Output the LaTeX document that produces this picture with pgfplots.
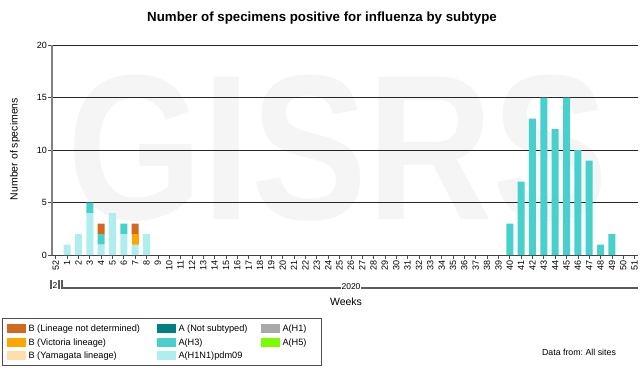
\documentclass[border=0pt]{standalone}
\usepackage{pgfplots}
\usepackage{pgfplotstable}
\pgfplotsset{compat=1.18}
\usepackage{fontspec}
\setmainfont{Liberation Sans}
\frenchspacing
\definecolor{cH1N1}{RGB}{175,238,238}
\definecolor{cH3}{RGB}{72,209,204}
\definecolor{cANS}{RGB}{0,128,128}
\definecolor{cH1}{RGB}{169,169,169}
\definecolor{cH5}{RGB}{124,252,0}
\definecolor{cYAM}{RGB}{255,222,173}
\definecolor{cVIC}{RGB}{255,165,0}
\definecolor{cBND}{RGB}{210,105,30}
\definecolor{yearline}{RGB}{90,90,90}
% x: 0 = week 52 of 2019, 1..51 = weeks of 2020
\pgfplotstableread{
x  h1n1 h3 ans h1 h5 yam vic bnd
0  0    0  0   0  0  0   0   0
1  1    0  0   0  0  0   0   0
2  2    0  0   0  0  0   0   0
3  4    1  0   0  0  0   0   0
4  1    1  0   0  0  0   0   1
5  4    0  0   0  0  0   0   0
6  2    1  0   0  0  0   0   0
7  1    0  0   0  0  0   1   1
8  2    0  0   0  0  0   0   0
40 0    3  0   0  0  0   0   0
41 0    7  0   0  0  0   0   0
42 0    13 0   0  0  0   0   0
43 0    15 0   0  0  0   0   0
44 0    12 0   0  0  0   0   0
45 0    15 0   0  0  0   0   0
46 0    10 0   0  0  0   0   0
47 0    9  0   0  0  0   0   0
48 0    1  0   0  0  0   0   0
49 0    2  0   0  0  0   0   0
}\datatable
\pgfplotsset{sw/.style={legend image code/.code={%
  \fill[##1,draw=none] (0pt,-4.5pt) rectangle (19pt,4.5pt);
  \path[draw=none,fill=none] (0pt,-6.75pt) rectangle (22pt,6.75pt);}}}
\begin{document}
\begin{tikzpicture}
\useasboundingbox (0pt,0pt) rectangle (640pt,370pt);
% watermark
\node[anchor=base, inner sep=0pt, xscale=0.84, text=black!4,
  font=\fontsize{207}{207}\selectfont\bfseries] at (338pt,150pt) {GISRS};
\begin{axis}[
  at={(52pt,115pt)}, anchor=south west,
  scale only axis, width=586pt, height=210pt,
  ybar stacked, bar width=7pt,
  xmin=-0.33, xmax=51.3, ymin=0, ymax=20,
  xtick={0,...,51},
  xticklabels={52,1,2,3,4,5,6,7,8,9,10,11,12,13,14,15,16,17,18,19,20,21,22,23,24,25,26,27,28,29,30,31,32,33,34,35,36,37,38,39,40,41,42,43,44,45,46,47,48,49,50,51},
  ytick={0,5,10,15,20},
  /pgf/number format/assume math mode=true,
  axis x line*=bottom, axis y line*=left,
  axis line style={-},
  x axis line style={black!75, line width=0.9pt},
  y axis line style={black!50, line width=1.2pt},
  tick align=outside, major tick length=4pt,
  tick style={black!70, line width=0.7pt},
  ymajorgrids, major grid style={black!85, line width=0.75pt},
  xticklabel style={rotate=90, anchor=east, font=\fontsize{9}{10}\selectfont, inner sep=1pt},
  yticklabel style={font=\fontsize{9}{10}\selectfont, inner sep=1pt},
  legend cell align=left,
  transpose legend, legend columns=3,
  legend style={at={(axis description cs:-0.0853,-0.3)}, anchor=north west,
    draw=black!70, line width=1pt, fill=white,
    font=\fontsize{9.2}{11}\selectfont,
    inner xsep=4pt, inner ysep=3.3pt, column sep=0pt, row sep=0pt,
    nodes={inner sep=0pt, text height=10pt, text depth=3.5pt}},
]
\addplot[fill=cH1N1, draw=none, forget plot] table[x=x,y=h1n1]{\datatable};
\addplot[fill=cH3,   draw=none, forget plot] table[x=x,y=h3]{\datatable};
\addplot[fill=cANS,  draw=none, forget plot] table[x=x,y=ans]{\datatable};
\addplot[fill=cH1,   draw=none, forget plot] table[x=x,y=h1]{\datatable};
\addplot[fill=cH5,   draw=none, forget plot] table[x=x,y=h5]{\datatable};
\addplot[fill=cYAM,  draw=none, forget plot] table[x=x,y=yam]{\datatable};
\addplot[fill=cVIC,  draw=none, forget plot] table[x=x,y=vic]{\datatable};
\addplot[fill=cBND,  draw=none, forget plot] table[x=x,y=bnd]{\datatable};
\addlegendimage{sw, fill=cBND}
\addlegendentry{\makebox[128pt][l]{B (Lineage not determined)}}
\addlegendimage{sw, fill=cVIC}
\addlegendentry{\makebox[128pt][l]{B (Victoria lineage)}}
\addlegendimage{sw, fill=cYAM}
\addlegendentry{\makebox[128pt][l]{B (Yamagata lineage)}}
\addlegendimage{sw, fill=cANS}
\addlegendentry{\makebox[82pt][l]{A (Not subtyped)}}
\addlegendimage{sw, fill=cH3}
\addlegendentry{\makebox[82pt][l]{A(H3)}}
\addlegendimage{sw, fill=cH1N1}
\addlegendentry{\makebox[82pt][l]{A(H1N1)pdm09}}
\addlegendimage{sw, fill=cH1}
\addlegendentry{\makebox[35pt][l]{A(H1)}}
\addlegendimage{sw, fill=cH5}
\addlegendentry{\makebox[35pt][l]{A(H5)}}
\addlegendimage{empty legend}
\addlegendentry{}
\end{axis}
% title and labels
\node[font=\fontsize{13.3}{15}\selectfont\bfseries] at (322pt,352pt) {Number of specimens positive for influenza by subtype};
\node[rotate=90, font=\fontsize{10.5}{12}\selectfont] at (15pt,221pt) {Number of specimens};
\node[font=\fontsize{10.5}{12}\selectfont] at (346pt,68pt) {Weeks};
% year brackets
\draw[yearline, line width=1.3pt] (51pt,90pt) -- (51pt,82pt) -- (59pt,82pt) -- (59pt,90pt);
\node[fill=white, inner sep=0.5pt, font=\fontsize{8.5}{9}\selectfont] at (55pt,84pt) {2};
\draw[yearline, line width=1.3pt] (62pt,90pt) -- (62pt,82pt) -- (638pt,82pt);
\node[fill=white, inner sep=1pt, font=\fontsize{8.5}{9}\selectfont] at (351pt,83pt) {2020};
\node[font=\fontsize{8.8}{10}\selectfont] at (579pt,18pt) {Data from: All sites};
\end{tikzpicture}
\end{document}
